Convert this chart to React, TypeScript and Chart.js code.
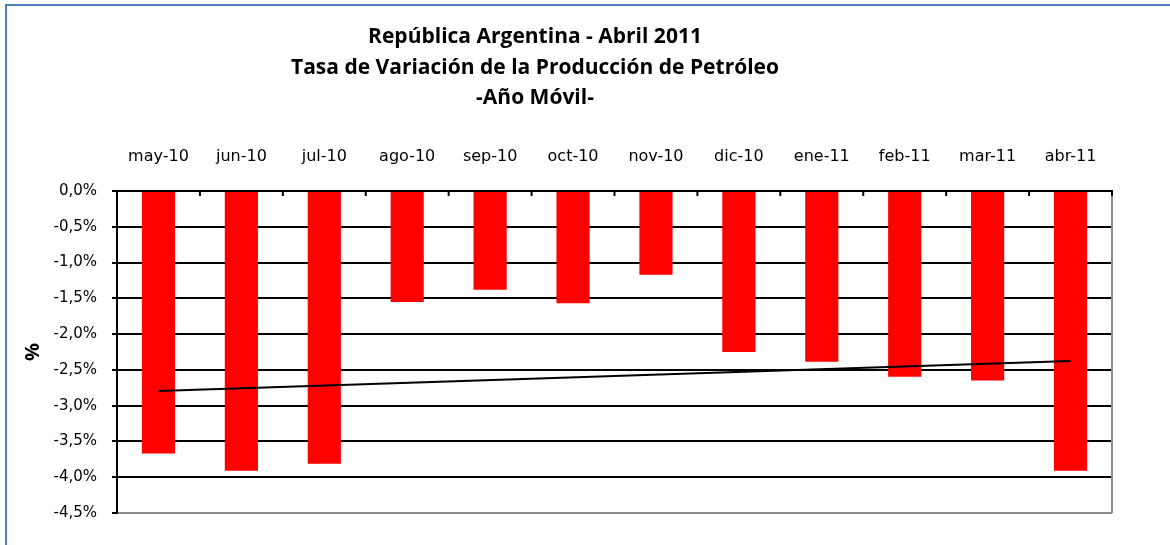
import React, { useEffect, useRef } from "react";
import { Chart, registerables } from "chart.js";

Chart.register(...registerables);

const titleLines = [
  "República Argentina - Abril 2011",
  "Tasa de Variación de la Producción de Petróleo",
  "-Año Móvil-",
];
const categories = [
  "may-10", "jun-10", "jul-10", "ago-10", "sep-10", "oct-10",
  "nov-10", "dic-10", "ene-11", "feb-11", "mar-11", "abr-11",
];
const variation = [-3.67, -3.91, -3.81, -1.55, -1.38, -1.57, -1.17, -2.25, -2.385, -2.595, -2.65, -3.91];
// trend line: value at first and last category
const trendStart = -2.795;
const trendEnd = -2.376;
const yMin = -4.5;
const yMax = 0;
const yStep = 0.5;
const yTitle = "%";

const trendData = categories.map((_, i) =>
  i === 0 ? trendStart : i === categories.length - 1 ? trendEnd : null
);

const titlePlugin = {
  id: "customTitle",
  afterDraw(chart: any) {
    const ctx = chart.ctx;
    ctx.save();
    ctx.fillStyle = "#000";
    ctx.font = "bold 21px 'Open Sans'";
    ctx.textAlign = "center";
    ctx.textBaseline = "alphabetic";
    const baselines = [43, 73.5, 104];
    titleLines.forEach((t, i) => ctx.fillText(t, 535, baselines[i]));
    ctx.restore();
  },
};

const framePlugin = {
  id: "frameExtras",
  beforeDatasetsDraw(chart: any) {
    const { ctx, chartArea } = chart;
    const xs = chart.scales.x;
    ctx.save();
    // right border of the plot area
    ctx.strokeStyle = "#8c8c8c";
    ctx.lineWidth = 2;
    ctx.beginPath();
    ctx.moveTo(chartArea.right, chartArea.top);
    ctx.lineTo(chartArea.right, chartArea.bottom);
    ctx.stroke();
    // inside tick marks on the top category axis
    ctx.strokeStyle = "#000";
    ctx.lineWidth = 2;
    const n = categories.length;
    for (let i = 0; i <= n; i++) {
      let x: number;
      if (i === 0) x = chartArea.left;
      else if (i === n) x = chartArea.right;
      else x = (xs.getPixelForValue(i - 1) + xs.getPixelForValue(i)) / 2;
      ctx.beginPath();
      ctx.moveTo(x, chartArea.top);
      ctx.lineTo(x, chartArea.top + 5);
      ctx.stroke();
    }
    ctx.restore();
  },
};

export default function App() {
  const ref = useRef<HTMLCanvasElement | null>(null);

  useEffect(() => {
    if (!ref.current) return;
    const chart = new Chart(ref.current, {
      type: "bar",
      data: {
        labels: categories,
        datasets: [
          {
            type: "line",
            data: trendData,
            borderColor: "#000",
            borderWidth: 2,
            pointRadius: 0,
            spanGaps: true,
            fill: false,
            order: 0,
          } as any,
          {
            type: "bar",
            data: variation,
            backgroundColor: "#ff0000",
            borderWidth: 0,
            barPercentage: 0.4,
            categoryPercentage: 1,
            order: 1,
          },
        ],
      },
      options: {
        animation: false,
        responsive: false,
        maintainAspectRatio: false,
        layout: { padding: { left: 0, top: 0, right: 58, bottom: 32 } },
        plugins: {
          legend: { display: false },
          title: { display: false },
          tooltip: { enabled: false },
        },
        scales: {
          x: {
            position: "top",
            offset: true,
            grid: { display: true, drawOnChartArea: false, drawTicks: false },
            border: { display: true, color: "#000", width: 2 },
            ticks: {
              color: "#000",
              font: { family: "'DejaVu Sans'", size: 16 },
              padding: 25,
              maxRotation: 0,
              autoSkip: false,
            },
            afterFit(scale: any) {
              scale.height = 191;
            },
          },
          y: {
            min: yMin,
            max: yMax,
            grid: {
              color: (c: any) => (c.tick && c.tick.value === yMin ? "#8c8c8c" : "#000"),
              lineWidth: 2,
              tickLength: 5,
              tickColor: "#000",
              drawTicks: true,
            },
            border: { display: true, color: "#000", width: 2 },
            ticks: {
              stepSize: yStep,
              color: "#000",
              padding: 15,
              font: { family: "'DejaVu Sans'", size: 15 },
              callback: (v: any) => Number(v).toFixed(1).replace(".", ",") + "%",
            },
            title: {
              display: true,
              text: yTitle,
              color: "#000",
              font: { family: "'Open Sans'", size: 20, weight: "bold" },
              padding: { top: 21, bottom: 0 },
            },
            afterFit(scale: any) {
              scale.width = 117;
            },
          },
        },
      },
      plugins: [titlePlugin, framePlugin],
    });
    return () => chart.destroy();
  }, []);

  return (
    <div
      style={{
        position: "fixed",
        left: 0,
        top: 0,
        width: 1170,
        height: 545,
        overflow: "hidden",
        background: "#fff",
      }}
    >
      <div
        style={{
          position: "absolute",
          left: 5,
          top: 4,
          width: 1400,
          height: 800,
          border: "2px solid #4f81bd",
          boxSizing: "border-box",
        }}
      />
      <canvas
        ref={ref}
        width={1170}
        height={545}
        style={{ position: "absolute", left: 0, top: 0, width: 1170, height: 545 }}
      />
    </div>
  );
}
